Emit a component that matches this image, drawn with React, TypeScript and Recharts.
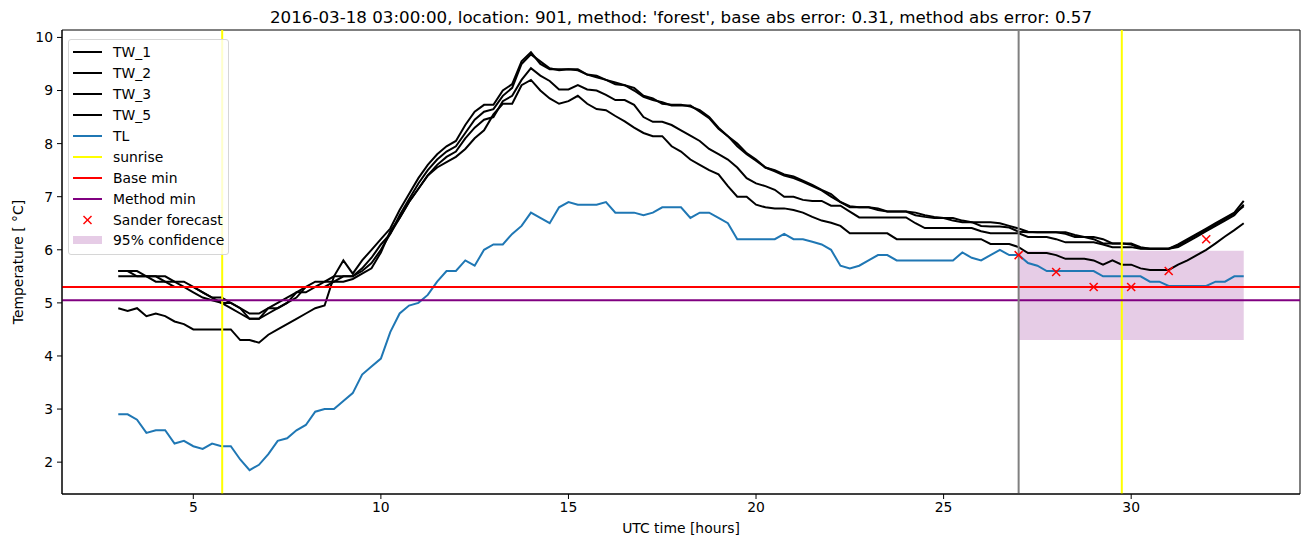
import { ComposedChart, Line, Scatter, XAxis, YAxis, ReferenceLine, ReferenceArea } from 'recharts';

const HOURS = [
  3, 3.25, 3.5, 3.75, 4, 4.25, 4.5, 4.75, 5, 5.25, 5.5, 5.75, 6, 6.25, 6.5, 6.75,
  7, 7.25, 7.5, 7.75, 8, 8.25, 8.5, 8.75, 9, 9.25, 9.5, 9.75, 10, 10.25, 10.5, 10.75,
  11, 11.25, 11.5, 11.75, 12, 12.25, 12.5, 12.75, 13, 13.25, 13.5, 13.75, 14, 14.25, 14.5, 14.75,
  15, 15.25, 15.5, 15.75, 16, 16.25, 16.5, 16.75, 17, 17.25, 17.5, 17.75, 18, 18.25, 18.5, 18.75,
  19, 19.25, 19.5, 19.75, 20, 20.25, 20.5, 20.75, 21, 21.25, 21.5, 21.75, 22, 22.25, 22.5, 22.75,
  23, 23.25, 23.5, 23.75, 24, 24.25, 24.5, 24.75, 25, 25.25, 25.5, 25.75, 26, 26.25, 26.5, 26.75,
  27, 27.25, 27.5, 27.75, 28, 28.25, 28.5, 28.75, 29, 29.25, 29.5, 29.75, 30, 30.25, 30.5, 30.75,
  31, 31.25, 31.5, 31.75, 32, 32.25, 32.5, 32.75, 33,
];

const TW_1 = [
  5.6, 5.6, 5.6, 5.5, 5.5, 5.5, 5.4, 5.4, 5.3, 5.2, 5.1, 5.1, 5.0, 4.9, 4.8, 4.8,
  4.9, 5.0, 5.1, 5.2, 5.3, 5.4, 5.4, 5.5, 5.5, 5.5, 5.65, 5.85, 6.1, 6.3, 6.65, 6.95,
  7.25, 7.5, 7.7, 7.85, 7.95, 8.2, 8.45, 8.6, 8.65, 8.9, 9.05, 9.5, 9.68, 9.55, 9.42, 9.38,
  9.4, 9.38, 9.3, 9.28, 9.2, 9.12, 9.1, 9.0, 8.88, 8.82, 8.78, 8.72, 8.72, 8.72, 8.6, 8.48,
  8.28, 8.14, 7.95, 7.8, 7.68, 7.55, 7.48, 7.4, 7.35, 7.28, 7.2, 7.12, 7.0, 6.9, 6.8, 6.8,
  6.8, 6.75, 6.72, 6.72, 6.72, 6.65, 6.62, 6.6, 6.6, 6.55, 6.52, 6.52, 6.45, 6.44, 6.44, 6.42,
  6.34, 6.33, 6.33, 6.33, 6.33, 6.3, 6.24, 6.24, 6.2, 6.12, 6.12, 6.12, 6.1, 6.03, 6.02, 6.02,
  6.02, 6.05, 6.15, 6.25, 6.35, 6.45, 6.55, 6.65, 6.85,
];

const TW_2 = [
  5.6, 5.6, 5.5, 5.5, 5.5, 5.4, 5.4, 5.3, 5.3, 5.2, 5.1, 5.0, 5.0, 4.9, 4.7, 4.7,
  4.9, 4.9, 5.0, 5.1, 5.3, 5.3, 5.4, 5.4, 5.5, 5.5, 5.6, 5.75, 6.0, 6.3, 6.6, 6.9,
  7.15, 7.4, 7.6, 7.75, 7.85, 8.1, 8.3, 8.45, 8.5, 8.8, 8.9, 9.2, 9.42, 9.28, 9.18, 9.02,
  9.02, 9.1, 9.02, 9.0, 8.92, 8.82, 8.82, 8.73, 8.5, 8.41, 8.41, 8.35, 8.25, 8.15, 8.05, 7.9,
  7.8, 7.7, 7.55, 7.35, 7.25, 7.2, 7.13, 7.0, 7.0, 6.94, 6.92, 6.92, 6.83, 6.83, 6.72, 6.61,
  6.61, 6.61, 6.61, 6.61, 6.61, 6.5, 6.41, 6.41, 6.41, 6.41, 6.41, 6.41, 6.35, 6.31, 6.31, 6.31,
  6.31, 6.24, 6.24, 6.24, 6.2, 6.14, 6.14, 6.14, 6.14, 6.1, 6.05, 6.05, 6.05, 6.02, 6.02, 6.02,
  6.02, 6.08, 6.18, 6.28, 6.38, 6.48, 6.58, 6.68, 6.82,
];

const TW_3 = [
  5.5, 5.5, 5.5, 5.5, 5.4, 5.4, 5.3, 5.3, 5.2, 5.1, 5.05, 5.0, 4.9, 4.8, 4.7, 4.7,
  4.8, 4.9, 5.0, 5.2, 5.2, 5.3, 5.3, 5.4, 5.4, 5.45, 5.55, 5.65, 5.95, 6.35, 6.6, 6.9,
  7.15, 7.4, 7.55, 7.65, 7.75, 7.9, 8.1, 8.25, 8.55, 8.75, 8.75, 9.1, 9.2, 9.0, 8.85, 8.75,
  8.8, 8.9, 8.75, 8.65, 8.63, 8.52, 8.42, 8.3, 8.2, 8.14, 8.14, 7.95, 7.85, 7.7, 7.6, 7.5,
  7.42, 7.2, 7.0, 7.0, 6.85, 6.8, 6.78, 6.78, 6.75, 6.7, 6.62, 6.55, 6.51, 6.45, 6.31, 6.31,
  6.31, 6.31, 6.31, 6.2, 6.2, 6.2, 6.2, 6.2, 6.2, 6.2, 6.2, 6.2, 6.2, 6.11, 6.11, 6.11,
  6.05, 5.94, 5.94, 5.94, 5.9, 5.83, 5.83, 5.83, 5.8, 5.72, 5.8, 5.72, 5.72, 5.65, 5.62, 5.62,
  5.62, 5.72, 5.8, 5.9, 6.0, 6.12, 6.25, 6.37, 6.5,
];

const TW_5 = [
  4.9, 4.85, 4.9, 4.75, 4.8, 4.75, 4.65, 4.6, 4.5, 4.5, 4.5, 4.5, 4.5, 4.3, 4.3, 4.25,
  4.4, 4.5, 4.6, 4.7, 4.8, 4.9, 4.95, 5.5, 5.8, 5.55, 5.8, 6.0, 6.2, 6.4, 6.75, 7.05,
  7.35, 7.6, 7.8, 7.95, 8.05, 8.35, 8.6, 8.73, 8.73, 9.0, 9.12, 9.55, 9.72, 9.5, 9.4, 9.4,
  9.4, 9.4, 9.3, 9.25, 9.2, 9.15, 9.1, 9.05, 8.9, 8.85, 8.75, 8.73, 8.73, 8.7, 8.63, 8.5,
  8.3, 8.14, 8.0, 7.82, 7.7, 7.55, 7.5, 7.42, 7.38, 7.3, 7.22, 7.13, 7.05, 6.9, 6.82, 6.8,
  6.8, 6.78, 6.72, 6.72, 6.72, 6.7, 6.65, 6.62, 6.6, 6.6, 6.55, 6.52, 6.52, 6.52, 6.5, 6.45,
  6.4, 6.34, 6.33, 6.33, 6.33, 6.33, 6.28, 6.24, 6.24, 6.2, 6.12, 6.12, 6.12, 6.05, 6.02, 6.02,
  6.02, 6.1, 6.2, 6.3, 6.4, 6.5, 6.6, 6.7, 6.92,
];

const TL = [
  2.9, 2.9, 2.8, 2.55, 2.6, 2.6, 2.35, 2.4, 2.3, 2.25, 2.35, 2.3, 2.3, 2.05, 1.85, 1.95,
  2.15, 2.4, 2.45, 2.6, 2.7, 2.95, 3.0, 3.0, 3.15, 3.3, 3.65, 3.8, 3.95, 4.45, 4.8, 4.95,
  5.0, 5.15, 5.4, 5.6, 5.6, 5.8, 5.7, 6.0, 6.1, 6.1, 6.3, 6.45, 6.7, 6.6, 6.5, 6.8,
  6.9, 6.85, 6.85, 6.85, 6.9, 6.7, 6.7, 6.7, 6.65, 6.7, 6.8, 6.8, 6.8, 6.6, 6.7, 6.7,
  6.6, 6.5, 6.2, 6.2, 6.2, 6.2, 6.2, 6.3, 6.2, 6.2, 6.15, 6.1, 6.0, 5.7, 5.65, 5.7,
  5.8, 5.9, 5.9, 5.8, 5.8, 5.8, 5.8, 5.8, 5.8, 5.8, 5.95, 5.85, 5.8, 5.9, 6.0, 5.9,
  5.9, 5.75, 5.7, 5.6, 5.6, 5.6, 5.6, 5.6, 5.6, 5.5, 5.5, 5.5, 5.5, 5.5, 5.4, 5.4,
  5.32, 5.32, 5.32, 5.32, 5.32, 5.4, 5.4, 5.5, 5.5,
];

const FORECAST_HOURS = [27, 28, 29, 30, 31, 32];
const FORECAST = [5.9, 5.58, 5.3, 5.3, 5.6, 6.2];

const SUNRISE = [5.77, 29.75];
const FORECAST_START = 27;
const CONFIDENCE = [4.3, 5.98];
const CONFIDENCE_END = 33;
const BASE_MIN = 5.3;
const METHOD_MIN = 5.05;

const X_TICKS = [5, 10, 15, 20, 25, 30];
const Y_TICKS = [2, 3, 4, 5, 6, 7, 8, 9, 10];

const rows = HOURS.map((t, i) => ({
  t,
  tw1: TW_1[i],
  tw2: TW_2[i],
  tw3: TW_3[i],
  tw5: TW_5[i],
  tl: TL[i],
}));

const forecastRows = FORECAST_HOURS.map((t, i) => ({ t, f: FORECAST[i] }));

const FONT = "'DejaVu Sans', sans-serif";
const tickStyle = { fontFamily: FONT, fontSize: 13.9, fill: '#000' };

function XMark(props: any) {
  const { cx, cy } = props;
  if (cx == null || cy == null) return null;
  return (
    <g stroke="red" strokeWidth={1.5}>
      <line x1={cx - 4} y1={cy - 4} x2={cx + 4} y2={cy + 4} />
      <line x1={cx - 4} y1={cy + 4} x2={cx + 4} y2={cy - 4} />
    </g>
  );
}

const LEGEND = [
  { name: 'TW_1', kind: 'line', color: '#000' },
  { name: 'TW_2', kind: 'line', color: '#000' },
  { name: 'TW_3', kind: 'line', color: '#000' },
  { name: 'TW_5', kind: 'line', color: '#000' },
  { name: 'TL', kind: 'line', color: '#1f77b4' },
  { name: 'sunrise', kind: 'line', color: 'yellow' },
  { name: 'Base min', kind: 'line', color: 'red' },
  { name: 'Method min', kind: 'line', color: 'purple' },
  { name: 'Sander forecast', kind: 'x', color: 'red' },
  { name: '95% confidence', kind: 'patch', color: 'rgba(128,0,128,0.2)' },
];

function LegendBox() {
  return (
    <div
      style={{
        position: 'absolute',
        left: 68,
        top: 39,
        width: 159,
        height: 212,
        border: '1px solid #d6d6d6',
        borderRadius: 3,
        background: 'rgba(255,255,255,0.8)',
        fontFamily: FONT,
        fontSize: 13.9,
        paddingTop: 2,
        boxSizing: 'content-box',
      }}
    >
      {LEGEND.map((item) => (
        <div key={item.name} style={{ display: 'flex', alignItems: 'center', height: 20.9 }}>
          <svg width={29} height={12} style={{ marginLeft: 4, marginRight: 11 }}>
            {item.kind === 'line' && <line x1={0} y1={6} x2={29} y2={6} stroke={item.color} strokeWidth={2} />}
            {item.kind === 'x' && (
              <g stroke="red" strokeWidth={1.5}>
                <line x1={10.5} y1={2} x2={18.5} y2={10} />
                <line x1={10.5} y1={10} x2={18.5} y2={2} />
              </g>
            )}
            {item.kind === 'patch' && <rect x={0} y={2} width={29} height={8} fill={item.color} />}
          </svg>
          <span style={{ color: '#000', whiteSpace: 'nowrap' }}>{item.name}</span>
        </div>
      ))}
    </div>
  );
}

export default function App() {
  return (
    <div style={{ position: 'absolute', left: 0, top: 0, width: 1310, height: 547, background: '#fff' }}>
      <div
        style={{
          position: 'absolute',
          left: 62,
          width: 1238,
          top: 7,
          textAlign: 'center',
          fontFamily: FONT,
          fontSize: 16.7,
          color: '#000',
          whiteSpace: 'nowrap',
        }}
      >
        2016-03-18 03:00:00, location: 901, method: 'forest', base abs error: 0.31, method abs error: 0.57
      </div>
      <ComposedChart width={1310} height={547} data={rows} margin={{ top: 30, right: 10, bottom: 23, left: 0 }}>
        <ReferenceArea
          x1={FORECAST_START}
          x2={CONFIDENCE_END}
          y1={CONFIDENCE[0]}
          y2={CONFIDENCE[1]}
          fill="purple"
          fillOpacity={0.2}
          stroke="none"
        />
        <XAxis
          type="number"
          dataKey="t"
          domain={[1.5, 34.5]}
          ticks={X_TICKS}
          allowDataOverflow
          height={30}
          tickSize={5}
          tickMargin={3}
          tick={tickStyle}
          stroke="#000"
        />
        <YAxis
          type="number"
          domain={[1.4, 10.14]}
          ticks={Y_TICKS}
          allowDataOverflow
          width={62}
          tickSize={5}
          tickMargin={4}
          tick={tickStyle}
          stroke="#000"
        />
        <Line type="linear" dataKey="tw1" stroke="#000" strokeWidth={2} dot={false} isAnimationActive={false} />
        <Line type="linear" dataKey="tw2" stroke="#000" strokeWidth={2} dot={false} isAnimationActive={false} />
        <Line type="linear" dataKey="tw3" stroke="#000" strokeWidth={2} dot={false} isAnimationActive={false} />
        <Line type="linear" dataKey="tw5" stroke="#000" strokeWidth={2} dot={false} isAnimationActive={false} />
        <Line type="linear" dataKey="tl" stroke="#1f77b4" strokeWidth={2} dot={false} isAnimationActive={false} />
        {SUNRISE.map((s) => (
          <ReferenceLine key={s} x={s} stroke="yellow" strokeWidth={2} />
        ))}
        <ReferenceLine y={BASE_MIN} stroke="red" strokeWidth={2} />
        <ReferenceLine y={METHOD_MIN} stroke="purple" strokeWidth={2} />
        <ReferenceLine x={FORECAST_START} stroke="gray" strokeWidth={2} />
        <Scatter data={forecastRows} dataKey="f" shape={XMark} isAnimationActive={false} />
        <ReferenceArea x1={1.5} x2={34.5} y1={1.4} y2={10.14} fill="none" stroke="#000" strokeWidth={1} />
      </ComposedChart>
      <div
        style={{
          position: 'absolute',
          left: 62,
          width: 1238,
          top: 520,
          textAlign: 'center',
          fontFamily: FONT,
          fontSize: 13.9,
          color: '#000',
        }}
      >
        UTC time [hours]
      </div>
      <div
        style={{
          position: 'absolute',
          left: 18,
          top: 262,
          transform: 'translate(-50%, -50%) rotate(-90deg)',
          fontFamily: FONT,
          fontSize: 13.9,
          color: '#000',
          whiteSpace: 'nowrap',
        }}
      >
        Temperature [ °C]
      </div>
      <LegendBox />
    </div>
  );
}
